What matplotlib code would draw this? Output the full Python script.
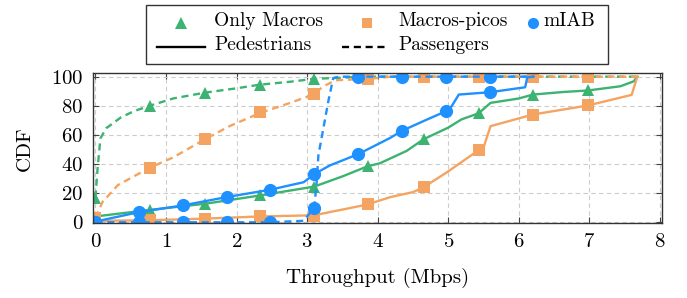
import matplotlib
matplotlib.use("Agg")
import matplotlib.pyplot as plt
from matplotlib.lines import Line2D
from matplotlib.patches import Rectangle

plt.rcParams['font.family'] = ['cmr10', 'DejaVu Serif']
plt.rcParams['axes.formatter.use_mathtext'] = True
plt.rcParams['font.size'] = 15

GREEN = '#3cb371'
ORANGE = '#f4a460'
BLUE = '#1e90ff'

# Only Macros
om_ped_x = [0, 0.77, 1.55, 2.33, 2.76, 3.1, 3.5, 3.86, 4.03, 4.41, 4.65, 5.0, 5.19, 5.43, 5.6, 6.0, 6.2, 6.64, 6.98, 7.44, 7.63, 7.68]
om_ped_y = [4, 8.5, 12.7, 18.4, 21.8, 24.5, 31.5, 38.5, 40.5, 49, 57, 65, 70.7, 74.8, 82, 85, 87.7, 89.5, 90.5, 93.4, 96.8, 100]
om_ped_mx = [0.77, 1.55, 2.33, 3.1, 3.86, 4.65, 5.43, 6.2, 6.98]
om_ped_my = [8.5, 12.7, 18.4, 24.5, 38.5, 57, 74.8, 87.7, 90.5]

om_pas_x = [0, 0.03, 0.07, 0.15, 0.36, 0.55, 0.77, 1.1, 1.55, 2.0, 2.33, 2.76, 3.1, 3.5, 3.86, 7.68]
om_pas_y = [17, 37, 57.6, 64.5, 72, 76.4, 80, 85, 89, 92, 94.5, 96.5, 98.5, 99.3, 100, 100]
om_pas_mx = [0, 0.77, 1.55, 2.33, 3.1, 3.86, 4.65, 5.43, 6.2, 6.98]
om_pas_my = [17, 80, 89, 94.5, 98.5, 100, 100, 100, 100, 100]

# Macros-picos
mp_ped_x = [0, 0.77, 1.55, 2.33, 3.1, 3.32, 3.56, 3.86, 4.18, 4.5, 4.65, 4.98, 5.43, 5.5, 5.6, 6.2, 6.98, 7.6, 7.68]
mp_ped_y = [1, 1.4, 2.5, 4, 4.8, 7, 9.3, 12.3, 17.3, 20.7, 24, 34.3, 49.5, 51.3, 66, 74, 80.2, 87.5, 100]
mp_ped_mx = [0.77, 1.55, 2.33, 3.1, 3.86, 4.65, 5.43, 6.2, 6.98]
mp_ped_my = [1.4, 2.5, 4, 4.5, 12.3, 24, 49.5, 74, 80.2]

mp_pas_x = [0, 0.1, 0.32, 0.77, 1.1, 1.55, 1.9, 2.33, 2.76, 3.1, 3.22, 3.4, 3.86, 4.2, 7.68]
mp_pas_y = [3, 14, 25.6, 37.5, 44.5, 57, 66, 75, 82, 88, 93, 97.5, 98.5, 100, 100]
mp_pas_mx = [0, 0.77, 1.55, 2.33, 3.1, 3.86, 4.65, 5.43, 6.2, 6.98]
mp_pas_my = [3, 37.5, 57, 75.5, 88, 98.5, 100, 100, 100, 100]

# mIAB
ia_ped_x = [0, 0.62, 1.24, 1.86, 2.47, 2.95, 3.1, 3.32, 3.72, 4.18, 4.34, 4.65, 4.97, 5.05, 5.15, 5.59, 6.09, 6.12, 6.21]
ia_ped_y = [0.5, 7, 11.6, 17.3, 22.3, 27.5, 33, 39, 46.7, 58, 62.7, 69.5, 76.3, 79.8, 87.7, 89.3, 92.7, 99.5, 100]
ia_ped_mx = [0, 0.62, 1.24, 1.86, 2.47, 3.1, 3.72, 4.34, 4.97, 5.59]
ia_ped_my = [0, 7, 11.6, 17.3, 22.3, 33, 46.7, 62.7, 76.3, 89.3]

ia_pas_x = [0, 0.62, 1.24, 1.86, 2.47, 2.95, 3.1, 3.13, 3.16, 3.23, 3.3, 3.37, 3.45, 6.21]
ia_pas_y = [0, 0, 0, 0, 0, 1, 10, 24.5, 46, 64.5, 83, 99, 100, 100]
ia_pas_mx = [0, 0.62, 1.24, 1.86, 2.47, 3.1, 3.72, 4.34, 4.97, 5.59]
ia_pas_my = [0, 0, 0, 0, 0, 10, 100, 100, 100, 100]

x_ticks = [0, 1, 2, 3, 4, 5, 6, 7, 8]
y_ticks = [0, 20, 40, 60, 80, 100]

fig = plt.figure(figsize=(6.87, 2.98), dpi=100)
ax = fig.add_axes([93 / 687, 1 - 223.3 / 298, (662 - 93) / 687, (223.3 - 73.3) / 298])

dash = (0, (3, 2))
lw = 1.7
series = [
    (om_ped_x, om_ped_y, om_ped_mx, om_ped_my, GREEN, '-', '^', 9),
    (om_pas_x, om_pas_y, om_pas_mx, om_pas_my, GREEN, dash, '^', 9),
    (mp_ped_x, mp_ped_y, mp_ped_mx, mp_ped_my, ORANGE, '-', 's', 8.5),
    (mp_pas_x, mp_pas_y, mp_pas_mx, mp_pas_my, ORANGE, dash, 's', 8.5),
    (ia_ped_x, ia_ped_y, ia_ped_mx, ia_ped_my, BLUE, '-', 'o', 9.5),
    (ia_pas_x, ia_pas_y, ia_pas_mx, ia_pas_my, BLUE, dash, 'o', 9.5),
]
for x, y, mx, my, c, ls, m, ms in series:
    ax.plot(x, y, color=c, linestyle=ls, linewidth=lw)
    ax.plot(mx, my, linestyle='none', marker=m, markersize=ms, color=c, markeredgewidth=0)

ax.set_xlim(-0.035, 8.03)
ax.set_ylim(-0.7, 102.3)
ax.set_xticks(x_ticks)
ax.set_yticks(y_ticks)
ax.grid(True, color='#cccccc', linestyle=(0, (4, 3)), linewidth=0.8)
ax.set_axisbelow(True)
ax.tick_params(direction='in', top=True, right=True, length=4, width=0.8, color='#444444', pad=7, labelsize=15)
for s in ax.spines.values():
    s.set_color('#333333')
    s.set_linewidth(1.0)
ax.set_xlabel('Throughput (Mbps)', fontsize=15)
ax.set_ylabel('CDF', fontsize=15)
ax.xaxis.set_label_coords(0.5, (223.3 - 268) / 150)
ax.yaxis.set_label_coords((34 - 93) / 569, 0.5)


# legend box drawn in pixel coordinates of the figure
def p(px, py):
    return px / 687, 1 - py / 298


tf = fig.transFigure
x0, y0 = p(146, 64)
x1, y1 = p(608, 5)
fig.add_artist(Rectangle((x0, y0), x1 - x0, y1 - y0, transform=tf, fill=True,
                         facecolor='white', edgecolor='#333333', linewidth=1.0))
r1, r2 = 22.5, 46.5
fig.add_artist(Line2D(*zip(p(181, r1)), transform=tf, marker='^', markersize=8, color=GREEN, markeredgewidth=0))
fig.add_artist(Line2D(*zip(p(367, r1)), transform=tf, marker='s', markersize=7.5, color=ORANGE, markeredgewidth=0))
fig.add_artist(Line2D(*zip(p(533, r1)), transform=tf, marker='o', markersize=8, color=BLUE, markeredgewidth=0))
fig.add_artist(Line2D(*zip(p(157, r2), p(205, r2)), transform=tf, color='black', linewidth=lw))
fig.add_artist(Line2D(*zip(p(342, r2), p(386, r2)), transform=tf, color='black', linewidth=lw, linestyle=dash))
for tx, ty, t in [(214, r1, 'Only Macros'), (398, r1, 'Macros-picos'), (543, r1, 'mIAB'),
                  (214, r2, 'Pedestrians'), (398, r2, 'Passengers')]:
    fig.text(*p(tx, ty - 1), t, ha='left', va='center', fontsize=14)

fig.savefig('out.png', dpi=100)
